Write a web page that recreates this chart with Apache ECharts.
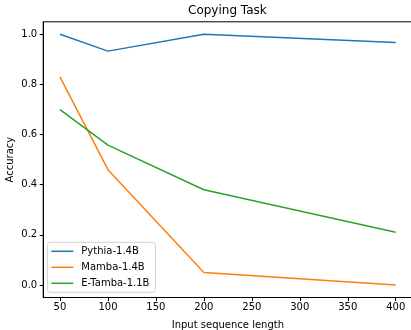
<!DOCTYPE html>
<html><head><meta charset="utf-8">
<script src="https://cdn.jsdelivr.net/npm/echarts@6/dist/echarts.min.js"></script>
<style>html,body{margin:0;padding:0;background:#fff}#c{width:411px;height:330px}</style>
</head><body><div id="c"></div>
<script>
var xValues = [50, 100, 200, 400];
var pythia = [1.0, 0.933, 1.0, 0.967];
var mamba = [0.83, 0.46, 0.05, 0.0];
var etamba = [0.70, 0.558, 0.38, 0.21];
var xTicks = [50, 100, 150, 200, 250, 300, 350, 400];
var yTicks = [0, 0.2, 0.4, 0.6, 0.8, 1.0];
var seriesNames = ['Pythia-1.4B', 'Mamba-1.4B', 'E-Tamba-1.1B'];
var colors = ['#1f77b4', '#ff7f0e', '#2ca02c'];

function pts(arr){ return xValues.map(function(x,i){ return [x, arr[i]]; }); }
var font = 'DejaVu Sans';
var chart = echarts.init(document.getElementById('c'), null, {renderer:'canvas'});
var mk = function(name, data, color){
  return {name:name, type:'line', data:pts(data), symbol:'none', lineStyle:{width:1.5,color:color}, itemStyle:{color:color}, animation:false, z:2};
};
chart.setOption({
  animation:false,
  title:{text:'Copying Task', left:183, top:0, textStyle:{fontFamily:font, fontSize:12, fontWeight:'normal', color:'#000'}},
  grid:{left:43.2, top:21.8, width:369.3, height:275.7, containLabel:false, outerBoundsMode:'none', show:true, borderColor:'#000', borderWidth:1, backgroundColor:'transparent'},
  legend:{orient:'vertical', left:47.3, top:242.3, data:seriesNames, icon:'path://M0 0H22V1.5H0Z', itemWidth:22, itemHeight:1.5, itemGap:4,
    padding:[3,6,3,4], borderColor:'#d0d0d0', borderWidth:1, borderRadius:3, backgroundColor:'rgba(255,255,255,0.8)',
    textStyle:{fontFamily:font, fontSize:10, color:'#000', lineHeight:12, padding:[0,0,0,3]}},
  xAxis:{type:'value', min:32.5, max:417.5, name:'Input sequence length', nameLocation:'middle', nameGap:22.5, nameMoveOverlap:false,
    nameTextStyle:{fontFamily:font, fontSize:10, color:'#000'},
    axisLine:{show:true, onZero:false, lineStyle:{color:'#000', width:1}},
    axisTick:{show:true, length:3.5, lineStyle:{color:'#000'}, customValues:xTicks},
    axisLabel:{customValues:xTicks, fontFamily:font, fontSize:10, color:'#000', margin:5},
    splitLine:{show:false}},
  yAxis:{type:'value', min:-0.05, max:1.05, name:'Accuracy', nameLocation:'middle', nameGap:28, nameRotate:90, nameMoveOverlap:false,
    nameTextStyle:{fontFamily:font, fontSize:10, color:'#000'},
    axisLine:{show:true, onZero:false, lineStyle:{color:'#000', width:1}},
    axisTick:{show:true, length:3.5, lineStyle:{color:'#000'}, customValues:yTicks},
    axisLabel:{customValues:yTicks, fontFamily:font, fontSize:10, color:'#000', margin:6, formatter:function(v){return v.toFixed(1);}},
    splitLine:{show:false}},
  series:[mk(seriesNames[0], pythia, colors[0]), mk(seriesNames[1], mamba, colors[1]), mk(seriesNames[2], etamba, colors[2])]
});
</script></body></html>
